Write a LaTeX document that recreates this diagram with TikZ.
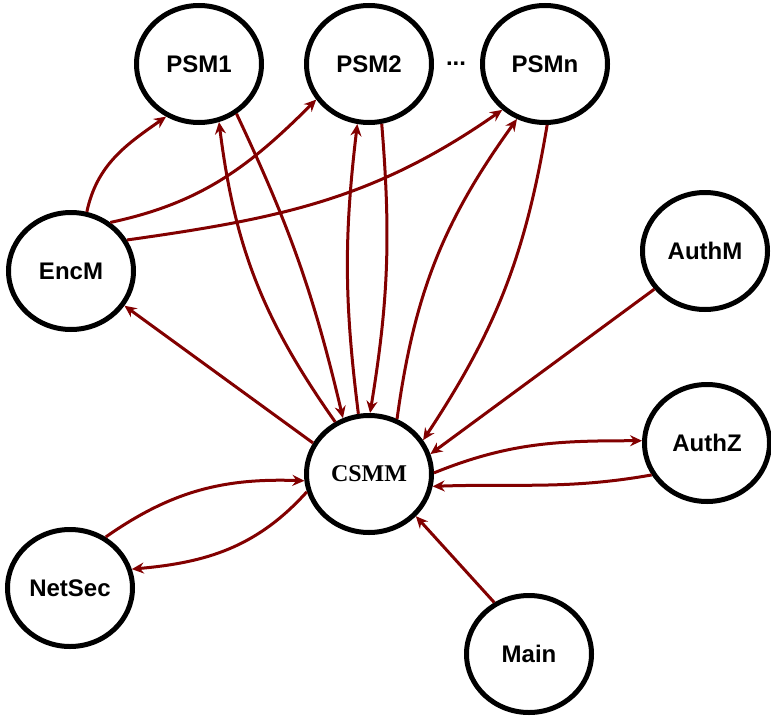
\documentclass[tikz,border=0pt]{standalone}
\usepackage{fontspec}
\setmainfont{Liberation Sans}
\newfontfamily\serifbold{Liberation Serif}
\usetikzlibrary{shapes.geometric,arrows.meta}
\definecolor{arrowred}{RGB}{130,0,0}
\tikzset{
  modnode/.style={ellipse, draw=black, line width=5pt, minimum width=125pt,
    minimum height=117pt, inner sep=0pt,
    font=\fontsize{24}{28}\selectfont\bfseries},
  link/.style={draw=arrowred, line width=3pt,
    -{Stealth[length=12pt,width=11pt,inset=4pt]}},
}
\begin{document}
\begin{tikzpicture}[x=1pt,y=-1pt]
\useasboundingbox (0,0) rectangle (771,717);
\node[modnode] (PSM1) at (199,64) {PSM1};
\node[modnode] (PSM2) at (369,64) {PSM2};
\node[modnode] (PSMn) at (545,64) {PSMn};
\node[font=\fontsize{24}{28}\selectfont\bfseries] (dots) at (456,64) {...};
\node[modnode] (EncM) at (71,271) {EncM};
\node[modnode] (AuthM) at (705,251) {AuthM};
\node[modnode, font=\fontsize{24}{28}\selectfont\serifbold\bfseries] (CSMM) at (369,474) {CSMM};
\node[modnode] (AuthZ) at (707,443) {AuthZ};
\node[modnode] (NetSec) at (70,588) {NetSec};
\node[modnode] (Main) at (529,654) {Main};

% EncM to PSMs
\draw[link] (EncM.75) to[out=78,in=215] (PSM1.238);
\draw[link] (EncM.51) to[out=12,in=225] (PSM2.214);
\draw[link] (EncM.29) to[out=8,in=215] (PSMn.227);
% CSMM to EncM
\draw[link] (CSMM.151) -- (EncM.-33);
% CSMM <-> PSMs
\draw[link] (CSMM.123) to[bend left=14] (PSM1.-71);
\draw[link] (PSM1.-53) to[bend left=6] (CSMM.115);
\draw[link] (CSMM.100) to[bend left=7] (PSM2.-101);
\draw[link] (PSM2.-78) to[bend left=7] (CSMM.89);
\draw[link] (CSMM.63) to[bend left=14] (PSMn.-117);
\draw[link] (PSMn.-88) to[bend left=12] (CSMM.32);
% AuthM, AuthZ, Main
\draw[link] (AuthM.217) -- (CSMM.18);
\draw[link] (CSMM.1) to[out=22,in=180] (AuthZ.178);
\draw[link] (AuthZ.210) to[out=190,in=2] (CSMM.-11);
\draw[link] (Main.124) -- (CSMM.-42);
% NetSec
\draw[link] (NetSec.55) to[out=35,in=178] (CSMM.186);
\draw[link] (CSMM.196) to[out=228,in=5] (NetSec.17);
\end{tikzpicture}
\end{document}
